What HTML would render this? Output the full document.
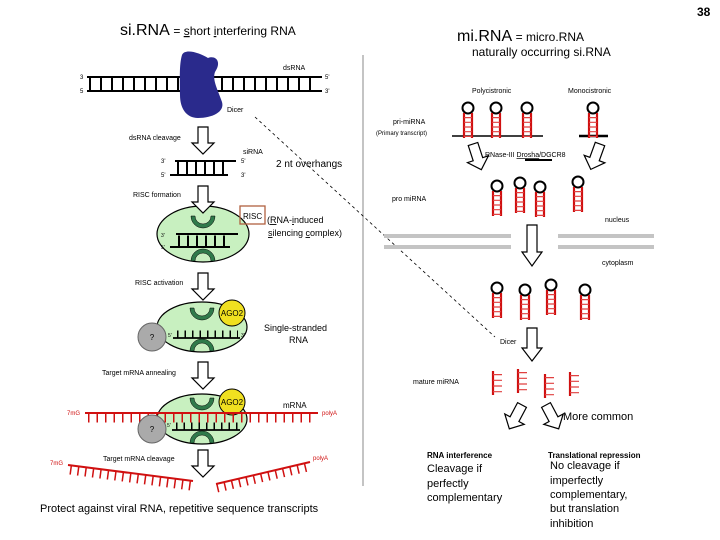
<!DOCTYPE html>
<html><head><meta charset="utf-8"><style>
body{margin:0;background:#fff}
svg{display:block}
text{font-family:"Liberation Sans",sans-serif}
</style></head><body>
<svg width="720" height="540" viewBox="0 0 720 540" xmlns="http://www.w3.org/2000/svg">
<defs>
<symbol id="hp" overflow="visible">
<circle cx="0" cy="0" r="5.5" fill="none" stroke="#000" stroke-width="2"/>
<line x1="-4" y1="5" x2="-4" y2="30" stroke="#d01010" stroke-width="2.2"/>
<line x1="4" y1="5" x2="4" y2="30" stroke="#d01010" stroke-width="2.2"/>
<line x1="0" y1="9" x2="0" y2="29" stroke="#e04040" stroke-width="8" stroke-dasharray="1.2 3.5"/>
</symbol>
<symbol id="arr" overflow="visible">
<path d="M-5,0 L5,0 L5,16 L11,16 L0,27 L-11,16 L-5,16 Z" fill="#fff" stroke="#000" stroke-width="1.2"/>
</symbol>
<symbol id="mm" overflow="visible">
<line x1="0" y1="0" x2="0" y2="24" stroke="#d01010" stroke-width="2.2"/>
<line x1="5" y1="3" x2="5" y2="22" stroke="#e04040" stroke-width="9" stroke-dasharray="1.2 4.5" transform="translate(-0.5,0)"/>
</symbol>
</defs>

<!-- titles -->
<text x="120" y="35" font-size="16">si.RNA <tspan font-size="12">= <tspan text-decoration="underline">s</tspan>hort <tspan text-decoration="underline">i</tspan>nterfering RNA</tspan></text>
<text x="457" y="41" font-size="16">mi.RNA <tspan font-size="12">= micro.RNA</tspan></text>
<text x="472" y="56" font-size="12">naturally occurring si.RNA</text>
<text x="697" y="16" font-size="12" font-weight="bold">38</text>
<line x1="363" y1="55" x2="363" y2="486" stroke="#888" stroke-width="1"/>

<!-- dsRNA -->
<line x1="87" y1="77" x2="322" y2="77" stroke="#000" stroke-width="2"/>
<line x1="87" y1="91" x2="322" y2="91" stroke="#000" stroke-width="2"/>
<line x1="89" y1="84" x2="320" y2="84" stroke="#000" stroke-width="14" stroke-dasharray="2 9"/>
<text x="80" y="79" font-size="6">3</text><text x="80" y="93" font-size="6">5</text>
<text x="325" y="79" font-size="6">5'</text><text x="325" y="93" font-size="6">3'</text>
<text x="283" y="70" font-size="7">dsRNA</text>
<path d="M182,55 C185,48 200,53 208,58 C216,55 222,62 215,72 C212,80 218,90 222,102 C225,112 212,118 198,118 C186,118 180,108 180,95 C180,80 179,65 182,55 Z" fill="#2a2a8c"/>
<text x="227" y="112" font-size="7">Dicer</text>
<line x1="255" y1="117" x2="495" y2="337" stroke="#000" stroke-width="0.8" stroke-dasharray="3 3"/>

<use href="#arr" x="203" y="127"/>
<text x="129" y="140" font-size="7">dsRNA cleavage</text>
<!-- siRNA -->
<line x1="175" y1="161" x2="236" y2="161" stroke="#000" stroke-width="2"/>
<line x1="170" y1="175" x2="228" y2="175" stroke="#000" stroke-width="2"/>
<line x1="177" y1="168" x2="228" y2="168" stroke="#000" stroke-width="12" stroke-dasharray="2 7"/>
<text x="161" y="163" font-size="6">3'</text><text x="161" y="177" font-size="6">5'</text>
<text x="241" y="163" font-size="6">5'</text><text x="241" y="177" font-size="6">3'</text>
<text x="243" y="154" font-size="7">siRNA</text>
<text x="276" y="167" font-size="10">2 nt overhangs</text>

<!-- RISC 1 -->
<ellipse cx="203" cy="234" rx="46" ry="28" fill="#c8f0c0" stroke="#000" stroke-width="1.2"/>
<use href="#arr" x="203" y="186"/>
<text x="133" y="197" font-size="7">RISC formation</text>
<path d="M191,216 A12,12 0 0 0 215,216 L211,216 A8,8 0 0 1 195,216 Z" fill="#2f7a4a" stroke="#000" stroke-width="0.5"/>
<path d="M191,261 A12,12 0 0 1 215,261 L211,261 A8,8 0 0 0 195,261 Z" fill="#2f7a4a" stroke="#000" stroke-width="0.5"/>
<line x1="176" y1="234" x2="238" y2="234" stroke="#000" stroke-width="2"/>
<line x1="170" y1="247" x2="230" y2="247" stroke="#000" stroke-width="2"/>
<line x1="178" y1="241" x2="230" y2="241" stroke="#000" stroke-width="11" stroke-dasharray="2 7"/>
<text x="161" y="237" font-size="5">3'</text><text x="161" y="249" font-size="5">5'</text>
<rect x="240" y="206" width="25" height="18" fill="none" stroke="#b06040" stroke-width="1.3"/>
<text x="243" y="219" font-size="8">RISC</text>
<text x="267" y="223" font-size="9">(<tspan text-decoration="underline">R</tspan>NA-<tspan text-decoration="underline">i</tspan>nduced</text>
<text x="268" y="236" font-size="9"><tspan text-decoration="underline">s</tspan>ilencing <tspan text-decoration="underline">c</tspan>omplex)</text>

<!-- RISC 2 -->
<ellipse cx="202" cy="327" rx="45" ry="25" fill="#c8f0c0" stroke="#000" stroke-width="1.2"/>
<use href="#arr" x="203" y="273"/>
<text x="135" y="285" font-size="7">RISC activation</text>
<path d="M190,308 A12,12 0 0 0 214,308 L210,308 A8,8 0 0 1 194,308 Z" fill="#2f7a4a" stroke="#000" stroke-width="0.5"/>
<path d="M190,351 A12,12 0 0 1 214,351 L210,351 A8,8 0 0 0 194,351 Z" fill="#2f7a4a" stroke="#000" stroke-width="0.5"/>
<circle cx="232" cy="313" r="13" fill="#f0e020" stroke="#000" stroke-width="1"/>
<text x="232" y="316" font-size="8" text-anchor="middle">AGO2</text>
<circle cx="152" cy="337" r="14" fill="#aaa" stroke="#666" stroke-width="1"/>
<text x="152" y="340" font-size="8" text-anchor="middle">?</text>
<line x1="173" y1="338" x2="240" y2="338" stroke="#000" stroke-width="1.8"/>
<line x1="177" y1="334" x2="238" y2="334" stroke="#000" stroke-width="7" stroke-dasharray="1.5 6"/>
<text x="168" y="337" font-size="5">5'</text><text x="241" y="337" font-size="5">3'</text>
<text x="264" y="331" font-size="9">Single-stranded</text>
<text x="289" y="343" font-size="9">RNA</text>

<use href="#arr" x="203" y="362"/>
<text x="102" y="375" font-size="7">Target mRNA annealing</text>
<!-- RISC 3 -->
<ellipse cx="202" cy="419" rx="45" ry="25" fill="#c8f0c0" stroke="#000" stroke-width="1.2"/>
<path d="M190,398 A12,12 0 0 0 214,398 L210,398 A8,8 0 0 1 194,398 Z" fill="#2f7a4a" stroke="#000" stroke-width="0.5"/>
<path d="M190,443 A12,12 0 0 1 214,443 L210,443 A8,8 0 0 0 194,443 Z" fill="#2f7a4a" stroke="#000" stroke-width="0.5"/>
<circle cx="232" cy="402" r="13" fill="#f0e020" stroke="#000" stroke-width="1"/>
<text x="232" y="405" font-size="8" text-anchor="middle">AGO2</text>
<line x1="85" y1="413" x2="318" y2="413" stroke="#d01010" stroke-width="2"/>
<line x1="88" y1="418" x2="316" y2="418" stroke="#d01010" stroke-width="9" stroke-dasharray="1.5 7"/>
<text x="67" y="415" font-size="6" fill="#d01010">7mG</text>
<text x="322" y="415" font-size="6" fill="#d01010">polyA</text>
<text x="283" y="408" font-size="8">mRNA</text>
<circle cx="152" cy="429" r="14" fill="#aaa" stroke="#666" stroke-width="1"/>
<text x="152" y="432" font-size="8" text-anchor="middle">?</text>
<line x1="172" y1="430" x2="240" y2="430" stroke="#000" stroke-width="1.8"/>
<line x1="176" y1="426" x2="238" y2="426" stroke="#000" stroke-width="7" stroke-dasharray="1.5 6"/>
<text x="167" y="427" font-size="5">5'</text>

<use href="#arr" x="203" y="450"/>
<text x="103" y="461" font-size="7">Target mRNA cleavage</text>
<line x1="68" y1="465" x2="193" y2="481" stroke="#d01010" stroke-width="2"/>
<line x1="70" y1="470" x2="191" y2="486" stroke="#d01010" stroke-width="9" stroke-dasharray="1.5 6"/>
<line x1="216" y1="484" x2="310" y2="462" stroke="#d01010" stroke-width="2"/>
<line x1="217" y1="488" x2="308" y2="467" stroke="#d01010" stroke-width="9" stroke-dasharray="1.5 6"/>
<text x="50" y="465" font-size="6" fill="#d01010">7mG</text>
<text x="313" y="460" font-size="6" fill="#d01010">polyA</text>
<text x="40" y="512" font-size="11">Protect against viral RNA, repetitive sequence transcripts</text>

<!-- right side -->
<text x="472" y="93" font-size="7">Polycistronic</text>
<text x="568" y="93" font-size="7">Monocistronic</text>
<text x="393" y="124" font-size="7">pri-miRNA</text>
<text x="376" y="135" font-size="6">(Primary transcript)</text>
<line x1="452" y1="136" x2="543" y2="136" stroke="#000" stroke-width="1.5"/>
<line x1="579" y1="136" x2="608" y2="136" stroke="#000" stroke-width="2.5"/>
<use href="#hp" x="468" y="108"/><use href="#hp" x="496" y="108"/><use href="#hp" x="527" y="108"/><use href="#hp" x="593" y="108"/>
<use href="#arr" x="473" y="144" transform="rotate(-18 473 144)"/>
<use href="#arr" x="600" y="144" transform="rotate(20 600 144)"/>
<text x="485" y="157" font-size="7">RNase-III <tspan text-decoration="underline">Drosha</tspan>/DGCR8</text>
<line x1="525" y1="160" x2="552" y2="160" stroke="#000" stroke-width="2"/>
<use href="#hp" x="497" y="186"/><use href="#hp" x="520" y="183"/><use href="#hp" x="540" y="187"/><use href="#hp" x="578" y="182"/>
<text x="392" y="201" font-size="7">pro miRNA</text>
<text x="605" y="222" font-size="7">nucleus</text>
<rect x="384" y="234" width="127" height="4" fill="#c4c4c4"/>
<rect x="384" y="245" width="127" height="4" fill="#c4c4c4"/>
<rect x="558" y="234" width="96" height="4" fill="#c4c4c4"/>
<rect x="558" y="245" width="96" height="4" fill="#c4c4c4"/>
<path d="M527,225 L537,225 L537,252 L542,252 L532,266 L522,252 L527,252 Z" fill="#fff" stroke="#000" stroke-width="1.2"/>
<text x="602" y="265" font-size="7">cytoplasm</text>
<use href="#hp" x="497" y="288"/><use href="#hp" x="525" y="290"/><use href="#hp" x="551" y="285"/><use href="#hp" x="585" y="290"/>
<path d="M527,328 L537,328 L537,348 L542,348 L532,361 L522,348 L527,348 Z" fill="#fff" stroke="#000" stroke-width="1.2"/>
<text x="500" y="344" font-size="7">Dicer</text>
<text x="413" y="384" font-size="7">mature miRNA</text>
<use href="#mm" x="493" y="371"/><use href="#mm" x="518" y="369"/><use href="#mm" x="545" y="374"/><use href="#mm" x="570" y="372"/>
<use href="#arr" x="522" y="405" transform="rotate(28 522 405)"/>
<use href="#arr" x="546" y="405" transform="rotate(-28 546 405)"/>
<text x="563" y="420" font-size="11">More common</text>
<text x="427" y="458" font-size="8" font-weight="bold">RNA interference</text>
<text x="427" y="472" font-size="11">Cleavage if</text>
<text x="427" y="487" font-size="11">perfectly</text>
<text x="427" y="501" font-size="11">complementary</text>
<text x="548" y="458" font-size="8" font-weight="bold">Translational repression</text>
<text x="550" y="469" font-size="11">No cleavage if</text>
<text x="550" y="484" font-size="11">imperfectly</text>
<text x="550" y="498" font-size="11">complementary,</text>
<text x="550" y="512" font-size="11">but translation</text>
<text x="550" y="527" font-size="11">inhibition</text>
</svg>
</body></html>
